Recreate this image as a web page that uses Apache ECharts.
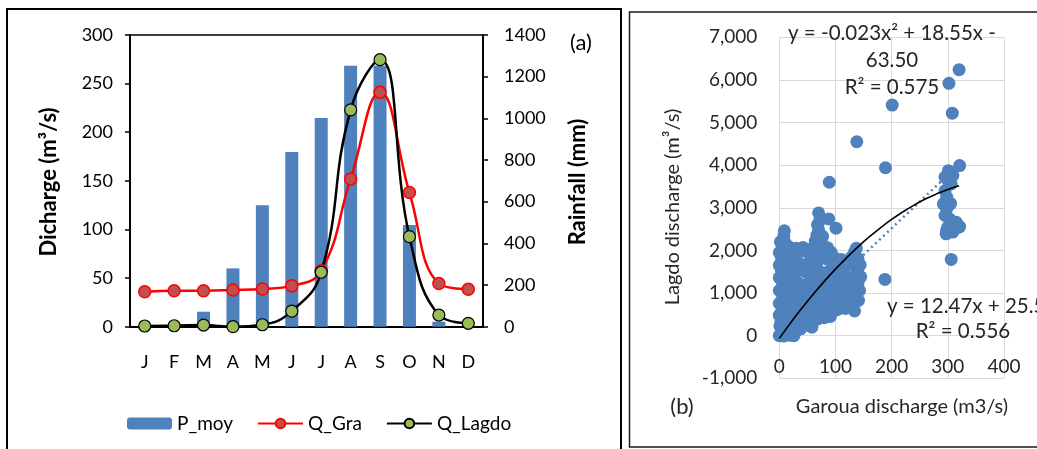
<!DOCTYPE html>
<html>
<head>
<meta charset="utf-8">
<script src="https://cdn.jsdelivr.net/npm/echarts@6/dist/echarts.min.js"></script>
<style>
  html, body { margin: 0; padding: 0; background: #fff; }
  #main { width: 1037px; height: 449px; }
</style>
</head>
<body>
<div id="main"></div>
<script>
// (a) monthly means
var months = ['J', 'F', 'M', 'A', 'M', 'J', 'J', 'A', 'S', 'O', 'N', 'D'];
var pMoy = [0, 0, 72, 280, 583, 839, 1002, 1252, 1252, 488, 24, 0];   // rainfall, mm
var qGra = [36, 37, 37, 37.7, 38.8, 42, 57.6, 152, 241, 138, 44.5, 38.5];
var qLagdo = [0.7, 1, 1.7, 0, 2, 16, 56, 223, 274.6, 92.6, 12, 3.5];

// (b) daily discharge Garoua (x) vs Lagdo (y)
var flowPairs = [
  [0, 0], [3, 40], [8, -10], [14, 20], [20, 10], [26, 0], [5, 120], [12, 90], [19, 150], [30, 110], [38, 160],
  [1, 230], [9, 210], [21, 260], [34, 220], [47, 250], [58, 200],
  [3, 350], [15, 380], [27, 340], [41, 370], [55, 330], [68, 390], [80, 420],
  [0, 480], [11, 500], [23, 470], [36, 520], [50, 490], [63, 510], [77, 470], [91, 450],
  [5, 620], [17, 640], [31, 600], [45, 650], [59, 610], [74, 630], [89, 580], [103, 610], [118, 640], [134, 580],
  [0, 760], [12, 780], [26, 740], [40, 790], [55, 750], [70, 770], [84, 730], [97, 800], [112, 760], [126, 790], [141, 830],
  [6, 910], [20, 930], [34, 880], [49, 920], [64, 900], [78, 940], [92, 890], [106, 930], [121, 910], [137, 950],
  [0, 1060], [14, 1040], [28, 1080], [43, 1030], [58, 1070], [72, 1050], [87, 1090], [102, 1040], [116, 1070], [130, 1110], [143, 1060],
  [6, 1210], [20, 1190], [35, 1230], [50, 1200], [64, 1240], [80, 1180], [95, 1220], [110, 1250], [124, 1200], [140, 1230],
  [0, 1360], [12, 1340], [26, 1380], [56, 1350], [70, 1390], [84, 1330], [98, 1370], [112, 1400], [128, 1350], [145, 1380],
  [4, 1510], [18, 1490], [32, 1530], [46, 1500], [60, 1540], [75, 1480], [89, 1520], [103, 1500], [116, 1550], [139, 1510],
  [0, 1650], [12, 1680], [26, 1640], [40, 1670], [54, 1700], [66, 1660], [96, 1680], [108, 1640], [131, 1690], [144, 1660],
  [4, 1800], [18, 1830], [30, 1790], [56, 1820], [70, 1850], [84, 1800], [98, 1830], [110, 1790], [128, 1840], [140, 1810],
  [0, 1950], [12, 1970], [24, 1940], [38, 1980], [52, 1950], [64, 1990], [78, 1940], [92, 1960], [134, 1960],
  [6, 2060], [18, 2080], [30, 2050], [42, 2070], [62, 2100], [74, 2080], [86, 2060], [137, 2050],
  [2, 2200], [10, 2190], [64, 2220], [75, 2200], [8, 2340], [67, 2360], [77, 2330], [9, 2460], [70, 2480],
  [68, 2600], [101, 2520], [72, 2700], [88, 2740], [70, 2880],
  [89, 3600], [138, 4550], [189, 3940], [201, 5410], [188, 1320],
  [302, 5920], [320, 6240], [308, 5220], [321, 3990], [306, 1790],
  [301, 3870], [295, 3720], [309, 3760], [306, 3560], [300, 3650], [295, 3400], [298, 3250], [305, 3100],
  [292, 3090], [298, 2970], [295, 2820], [303, 2740], [315, 2660], [321, 2560], [300, 2550], [298, 2470],
  [309, 2430], [297, 2390], [318, 2540]
];

// trend lines
var polyFit = [[0, -64], [20, 298], [40, 642], [60, 967], [80, 1273], [100, 1562], [120, 1831], [140, 2083],
  [160, 2316], [180, 2530], [200, 2727], [220, 2904], [240, 3064], [260, 3205], [280, 3327], [300, 3432], [320, 3517]];
var linFit = [[0, 26], [320, 4016]];

var dischargeTicks = [0, 50, 100, 150, 200, 250, 300];
var rainTicks = [0, 200, 400, 600, 800, 1000, 1200, 1400];

var FONT = 'Lato, "Open Sans", sans-serif';
var chart = echarts.init(document.getElementById('main'));

var leftAxisBase = {
  gridIndex: 0,
  type: 'value',
  axisLine: { show: true, lineStyle: { color: '#000', width: 2 } },
  axisTick: { show: true, length: 5, lineStyle: { color: '#000', width: 1.5 } },
  splitLine: { show: false }
};

var option = {
  animation: false,
  backgroundColor: '#fff',
  grid: [
    { left: 130, top: 35, width: 353, height: 291.7, show: true, borderColor: '#000', borderWidth: 1.5 },
    { left: 779.3, top: 37.3, width: 224.7, height: 341 }
  ],
  legend: {
    data: ['P_moy', 'Q_Gra', 'Q_Lagdo'],
    left: 122, top: 409,
    itemWidth: 45, itemHeight: 12, itemGap: 24,
    textStyle: { fontSize: 19, color: '#000', fontFamily: FONT }
  },
  xAxis: [
    {
      gridIndex: 0, type: 'category', data: months,
      axisLine: { lineStyle: { color: '#000', width: 2 } },
      axisTick: { show: false },
      axisLabel: { color: '#000', fontSize: 18, margin: 26, fontFamily: FONT, interval: 0 }
    },
    {
      gridIndex: 1, type: 'value', min: 0, max: 400, interval: 100,
      axisLine: { show: false }, axisTick: { show: false },
      axisLabel: { inside: true, margin: 2, color: '#262626', fontSize: 19, fontFamily: FONT },
      splitLine: { show: true, lineStyle: { color: '#d9d9d9', width: 1 } }
    }
  ],
  yAxis: [
    Object.assign({}, leftAxisBase, {
      position: 'left', min: dischargeTicks[0], max: dischargeTicks[dischargeTicks.length - 1], interval: 50,
      axisLabel: { color: '#000', fontSize: 18, margin: 17, fontFamily: FONT }
    }),
    Object.assign({}, leftAxisBase, {
      position: 'right', min: rainTicks[0], max: rainTicks[rainTicks.length - 1], interval: 200,
      axisLabel: { color: '#000', fontSize: 18, margin: 21, fontFamily: FONT,
        formatter: function (v) { return String(v); } }
    }),
    {
      gridIndex: 1, type: 'value', min: -1000, max: 7000, interval: 1000,
      axisLine: { show: false }, axisTick: { show: false },
      axisLabel: {
        color: '#262626', fontSize: 19, margin: 22, fontFamily: FONT,
        formatter: function (v) { return v.toLocaleString('en-US'); }
      },
      splitLine: { show: true, lineStyle: { color: '#d9d9d9', width: 1 } }
    }
  ],
  series: [
    {
      name: 'P_moy', type: 'bar', xAxisIndex: 0, yAxisIndex: 1,
      data: pMoy, barWidth: 13,
      itemStyle: { color: '#4F81BD' }
    },
    {
      name: 'Q_Gra', type: 'line', xAxisIndex: 0, yAxisIndex: 0,
      data: qGra, smooth: 0.45, smoothConstraint: false,
      symbol: 'circle', symbolSize: 12,
      lineStyle: { color: '#FF0000', width: 2.5 },
      itemStyle: { color: '#C0504D', borderColor: '#FF0000', borderWidth: 1.5 }
    },
    {
      name: 'Q_Lagdo', type: 'line', xAxisIndex: 0, yAxisIndex: 0,
      data: qLagdo, smooth: 0.45, smoothConstraint: false,
      symbol: 'circle', symbolSize: 12,
      lineStyle: { color: '#000', width: 2.5 },
      itemStyle: { color: '#9BBB59', borderColor: '#000', borderWidth: 1.2 }
    },
    {
      name: 'linear', type: 'line', xAxisIndex: 1, yAxisIndex: 2,
      data: linFit, symbol: 'none',
      lineStyle: { color: '#4F81BD', width: 2.5, type: [2, 3.5] }
    },
    {
      name: 'daily', type: 'scatter', xAxisIndex: 1, yAxisIndex: 2,
      data: flowPairs, symbolSize: 13,
      itemStyle: { color: '#4F81BD', opacity: 1 }
    },
    {
      name: 'poly', type: 'line', xAxisIndex: 1, yAxisIndex: 2,
      data: polyFit, symbol: 'none', smooth: true,
      lineStyle: { color: '#000', width: 1.6 }
    }
  ],
  graphic: [
    { type: 'rect', shape: { x: 7, y: 9, width: 614, height: 470 }, style: { fill: 'none', stroke: '#000', lineWidth: 2 }, z: 100 },
    { type: 'rect', shape: { x: 629.5, y: 12, width: 430, height: 435 }, style: { fill: 'none', stroke: '#1a1a1a', lineWidth: 1.5 }, z: 100 },
    { type: 'text', x: 49, y: 182, rotation: Math.PI / 2,
      style: { text: 'Dicharge (m³/s)', fontSize: 22, fontWeight: 'bold', fontFamily: FONT, fill: '#000', align: 'center', verticalAlign: 'middle' } },
    { type: 'text', x: 578, y: 182, rotation: Math.PI / 2,
      style: { text: 'Rainfall (mm)', fontSize: 22, fontWeight: 'bold', fontFamily: FONT, fill: '#000', align: 'center', verticalAlign: 'middle' } },
    { type: 'text', x: 581, y: 43,
      style: { text: '(a)', fontSize: 22, fontFamily: FONT, fill: '#000', align: 'center', verticalAlign: 'middle' } },
    { type: 'text', x: 673, y: 207, rotation: Math.PI / 2,
      style: { text: 'Lagdo discharge (m³/s)', fontSize: 20, fontFamily: FONT, fill: '#262626', align: 'center', verticalAlign: 'middle' } },
    { type: 'text', x: 902, y: 407,
      style: { text: 'Garoua discharge (m3/s)', fontSize: 20, fontFamily: FONT, fill: '#262626', align: 'center', verticalAlign: 'middle' } },
    { type: 'text', x: 682, y: 407,
      style: { text: '(b)', fontSize: 22, fontFamily: FONT, fill: '#262626', align: 'center', verticalAlign: 'middle' } },
    { type: 'text', x: 892, y: 33, z: 50,
      style: { text: 'y = -0.023x² + 18.55x -', fontSize: 20.5, fontFamily: FONT, fill: '#262626', align: 'center', verticalAlign: 'middle' } },
    { type: 'text', x: 892, y: 60, z: 50,
      style: { text: '63.50', fontSize: 20.5, fontFamily: FONT, fill: '#262626', align: 'center', verticalAlign: 'middle' } },
    { type: 'text', x: 892, y: 87, z: 50,
      style: { text: 'R² = 0.575', fontSize: 20.5, fontFamily: FONT, fill: '#262626', align: 'center', verticalAlign: 'middle' } },
    { type: 'text', x: 887, y: 306, z: 50,
      style: { text: 'y = 12.47x + 25.52', fontSize: 20.5, fontFamily: FONT, fill: '#262626', align: 'left', verticalAlign: 'middle' } },
    { type: 'text', x: 963, y: 331, z: 50,
      style: { text: 'R² = 0.556', fontSize: 20.5, fontFamily: FONT, fill: '#262626', align: 'center', verticalAlign: 'middle' } }
  ]
};

chart.setOption(option);
</script>
</body>
</html>
